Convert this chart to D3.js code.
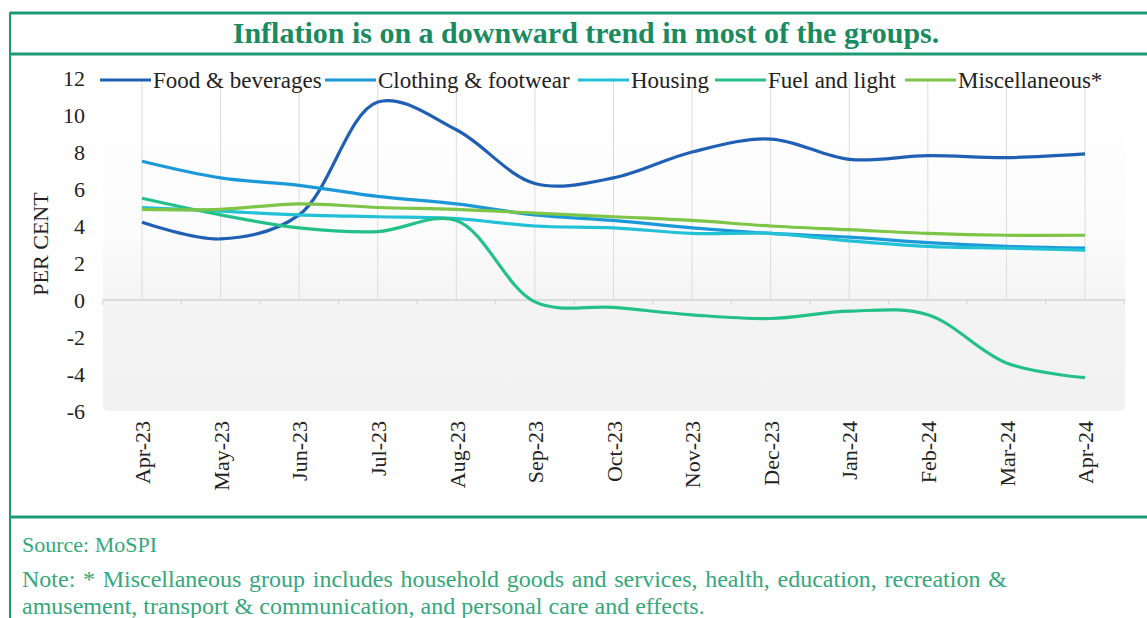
<!DOCTYPE html>
<html>
<head>
<meta charset="utf-8">
<script src="https://cdn.jsdelivr.net/npm/d3@7"></script>
<style>
  body { margin: 0; background: #fff; }
  svg { display: block; font-family: "Liberation Serif", "Times New Roman", serif; }
</style>
</head>
<body>
<svg id="chart" width="1147" height="618"></svg>
<script>
const months = ["Apr-23", "May-23", "Jun-23", "Jul-23", "Aug-23", "Sep-23", "Oct-23",
  "Nov-23", "Dec-23", "Jan-24", "Feb-24", "Mar-24", "Apr-24"];
const seriesNames = ["Food & beverages", "Clothing & footwear", "Housing", "Fuel and light", "Miscellaneous*"];
const foodBev = [4.2, 3.3, 4.6, 10.7, 9.2, 6.3, 6.6, 8.0, 8.7, 7.6, 7.8, 7.7, 7.9];
const clothing = [7.5, 6.6, 6.2, 5.6, 5.2, 4.6, 4.3, 3.9, 3.6, 3.4, 3.1, 2.9, 2.8];
const housing = [5.0, 4.8, 4.6, 4.5, 4.4, 4.0, 3.9, 3.6, 3.6, 3.2, 2.9, 2.8, 2.7];
const fuel = [5.5, 4.6, 3.9, 3.7, 4.3, -0.1, -0.4, -0.8, -1.0, -0.6, -0.8, -3.4, -4.2];
const misc = [4.9, 4.9, 5.2, 5.0, 4.9, 4.7, 4.5, 4.3, 4.0, 3.8, 3.6, 3.5, 3.5];
const yTicks = [12, 10, 8, 6, 4, 2, 0, -2, -4, -6];

const seriesValues = [foodBev, clothing, housing, fuel, misc];
const colors = ["#1f5fb4", "#1b98d8", "#22c1d6", "#24c08a", "#7dc447"];

const svg = d3.select("#chart");
const W = 1147;
const green = "#1c9a72";

// frame
svg.append("line").attr("x1", 10).attr("x2", W).attr("y1", 13).attr("y2", 13)
  .attr("stroke", green).attr("stroke-width", 3);
svg.append("line").attr("x1", 10).attr("x2", W).attr("y1", 54).attr("y2", 54)
  .attr("stroke", green).attr("stroke-width", 3);
svg.append("line").attr("x1", 10).attr("x2", W).attr("y1", 517).attr("y2", 517)
  .attr("stroke", green).attr("stroke-width", 3);
svg.append("line").attr("x1", 10).attr("x2", 10).attr("y1", 12).attr("y2", 618)
  .attr("stroke", green).attr("stroke-width", 2);

svg.append("text").attr("x", 586).attr("y", 43).attr("text-anchor", "middle")
  .attr("font-size", 30).attr("font-weight", "bold").attr("fill", "#1a8a60")
  .text("Inflation is on a downward trend in most of the groups.");

const x = d3.scalePoint().domain(months).range([142, 1085]);
const y = d3.scaleLinear().domain([-6, 12]).range([411, 78]);

// plot background
const defs = svg.append("defs");
const grad = defs.append("linearGradient").attr("id", "bg").attr("x1", 0).attr("x2", 0).attr("y1", 0).attr("y2", 1);
grad.append("stop").attr("offset", "0%").attr("stop-color", "#ffffff");
grad.append("stop").attr("offset", "45%").attr("stop-color", "#fbfbfb");
grad.append("stop").attr("offset", "68%").attr("stop-color", "#f3f3f3");
grad.append("stop").attr("offset", "100%").attr("stop-color", "#f2f2f2");
svg.append("rect").attr("x", 103).attr("y", 95).attr("width", 1022).attr("height", 316)
  .attr("rx", 6).attr("fill", "url(#bg)");

// vertical gridlines above zero
svg.append("g").selectAll("line").data(months).join("line")
  .attr("x1", d => x(d)).attr("x2", d => x(d))
  .attr("y1", y(12)).attr("y2", y(0))
  .attr("stroke", "#dcdcdc").attr("stroke-width", 1);

// zero axis with minor ticks between categories
const step = x.step();
const mids = months.slice(0, -1).map(d => x(d) + step / 2);
mids.unshift(x(months[0]) - step / 2);
mids.push(x(months[months.length - 1]) + step / 2);
svg.append("line").attr("x1", 103).attr("x2", 1125).attr("y1", y(0)).attr("y2", y(0))
  .attr("stroke", "#d4d4d4").attr("stroke-width", 1.5);
svg.append("g").selectAll("line").data(mids).join("line")
  .attr("x1", d => d).attr("x2", d => d).attr("y1", y(0)).attr("y2", y(0) + 5)
  .attr("stroke", "#d4d4d4");

// y axis labels
const yAxis = svg.append("g").attr("transform", "translate(85,0)")
  .call(d3.axisLeft(y).tickValues(yTicks).tickSize(0).tickPadding(0).tickFormat(d => String(d)));
yAxis.select(".domain").remove();
yAxis.selectAll("text").attr("font-family", "Liberation Serif").attr("font-size", 22).attr("fill", "#222");

svg.append("text").attr("transform", "translate(48,244) rotate(-90)").attr("text-anchor", "middle")
  .attr("font-size", 22).attr("fill", "#222").text("PER CENT");

// x axis labels
const xAxis = svg.append("g").attr("transform", `translate(0,${y(-6)})`)
  .call(d3.axisBottom(x).tickSize(0).tickPadding(0));
xAxis.select(".domain").remove();
xAxis.selectAll("text")
  .attr("font-family", "Liberation Serif").attr("font-size", 22).attr("fill", "#222")
  .attr("text-anchor", "end").attr("dy", "0.35em")
  .attr("transform", "translate(0,10) rotate(-90)");

// lines
const line = d3.line().x((d, i) => x(months[i])).y(d => y(d)).curve(d3.curveCatmullRom.alpha(0.5));
svg.append("g").selectAll("path").data(seriesValues).join("path")
  .attr("d", d => line(d)).attr("fill", "none")
  .attr("stroke", (d, i) => colors[i]).attr("stroke-width", 3.2);

// legend
const legendX = [100, 325, 578, 715, 905];
const lg = svg.append("g").selectAll("g").data(seriesNames).join("g")
  .attr("transform", (d, i) => `translate(${legendX[i]},80)`);
lg.append("line").attr("x1", 0).attr("x2", 51).attr("stroke", (d, i) => colors[i]).attr("stroke-width", 3);
lg.append("text").attr("x", 53).attr("dy", "0.35em").attr("font-size", 23).attr("fill", "#222").text(d => d);

// footer
const foot = "#35a77c";
svg.append("text").attr("x", 22).attr("y", 552).attr("font-size", 22).attr("fill", foot).text("Source: MoSPI");
svg.append("text").attr("x", 22).attr("y", 587).attr("font-size", 24).attr("fill", foot)
  .attr("word-spacing", 1.7)
  .text("Note: * Miscellaneous group includes household goods and services, health, education, recreation &");
svg.append("text").attr("x", 22).attr("y", 614).attr("font-size", 24).attr("fill", foot)
  .text("amusement, transport & communication, and personal care and effects.");
</script>
</body>
</html>
